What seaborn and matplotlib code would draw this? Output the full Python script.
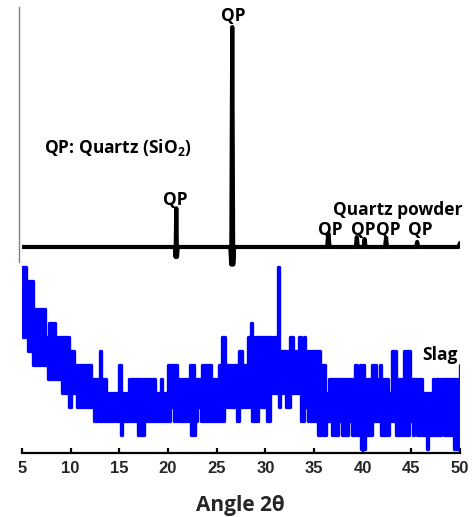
import matplotlib
matplotlib.use("Agg")
import matplotlib.pyplot as plt
import seaborn as sns

# ---------------- data ----------------
# Quartz powder XRD trace (relative intensity, baseline 0, main peak 100)
quartz_angle = [5.0, 20.7, 20.78, 20.85, 20.92, 21.0, 26.4, 26.5, 26.6, 26.7, 26.8,
                36.35, 36.47, 36.6, 39.3, 39.4, 39.5, 40.1, 40.2, 40.3,
                42.3, 42.4, 42.5, 45.5, 45.6, 45.7, 49.85, 50.0]
quartz_int = [0, 0, -4.5, 17.6, -4.5, 0, 0, -8, 100, -8, 0,
              0, 6.3, 0, 0, 4.5, 0, 0, 3.6, 0,
              0, 4.0, 0, 0, 2.3, 0, 0, 1.8]

# Slag XRD trace: upper and lower count levels every 0.25 degree (5 .. 50)
slag_start, slag_step = 5.0, 0.25
slag_hi = [12, 12, 11, 11,   11, 9, 9, 9,   9, 9, 7, 8,   8, 8, 7, 7,   7, 7, 7, 7,
           6, 6, 5, 5,       5, 5, 5, 5,    5, 4, 4, 4,   6, 4, 4, 3,   3, 3, 3, 3,
           5, 3, 3, 3,       4, 4, 4, 4,    4, 4, 4, 4,   4, 4, 4, 3,   3, 4, 3, 3,
           5, 5, 5, 5,       4, 4, 4, 4,    4, 5, 5, 4,   4, 4, 5, 5,   5, 5, 4, 4,
           4, 5, 7, 7,       5, 5, 5, 5,    5, 6, 6, 5,   5, 7, 8, 7,   7, 7, 7, 7,
           7, 7, 7, 7,       7, 12, 6, 6,   6, 6, 7, 7,   6, 6, 7, 6,   7, 6, 6, 6,
           6, 6, 6, 5,       5, 3, 4, 4,    4, 4, 4, 4,   4, 4, 4, 4,   4, 5, 4, 5,
           5, 4, 4, 4,       5, 5, 4, 5,    4, 4, 4, 3,   6, 6, 4, 4,   4, 6, 6, 6,
           4, 4, 4, 4,       4, 3, 3, 3,    3, 4, 4, 4,   4, 4, 4, 4,   4, 4, 4, 4,
           5]
slag_lo = [7, 7, 6, 6,       5, 5, 5, 5,    5, 5, 4, 4,   4, 4, 4, 4,   3, 3, 3, 2,
           3, 3, 2, 2,       2, 2, 2, 2,    2, 1, 1, 1,   1, 1, 1, 1,   1, 1, 1, 1,
           0, 1, 1, 1,       1, 1, 1, 0,    0, 0, 1, 1,   1, 1, 1, 1,   1, 1, 1, 1,
           1, 2, 1, 1,       1, 1, 1, 1,    1, 0, 0, 1,   2, 1, 1, 1,   1, 1, 1, 1,
           1, 1, 1, 2,       2, 2, 2, 2,    1, 2, 2, 2,   2, 2, 1, 1,   1, 2, 2, 2,
           1, 1, 3, 3,       3, 2, 3, 3,    2, 2, 3, 3,   3, 3, 1, 1,   2, 1, 1, 1,
           1, 0, 0, 0,       0, 1, 1, 0,    0, 0, 1, 0,   0, 0, 1, 0,   0, 0, 0, -1,
           -1, 0, 0, 0,      1, 1, 1, 0,    0, 0, 0, 1,   1, 0, 0, 0,   0, 0, 0, 1,
           0, 1, 0, 0,       0, 0, -1, 0,   0, 0, 0, 0,   1, 0, 0, 0,   0, -1, -1, 0,
           -1]

x_ticks = [5, 10, 15, 20, 25, 30, 35, 40, 45, 50]

# ---------------- style ----------------
sns.set_style("white")
plt.rcParams["font.family"] = ["Open Sans", "DejaVu Sans"]
plt.rcParams["mathtext.fontset"] = "custom"
plt.rcParams["mathtext.rm"] = "Open Sans"
plt.rcParams["mathtext.bf"] = "Open Sans:bold"
plt.rcParams["mathtext.default"] = "bf"

W, H = 473, 517
fig = plt.figure(figsize=(W / 100, H / 100), dpi=100)
ax_left, ax_right, ax_top, ax_bot = 22, 460, 7, 453
ax = fig.add_axes([ax_left / W, 1 - ax_bot / H, (ax_right - ax_left) / W, (ax_bot - ax_top) / H])

# vertical scale: one count level = 14 px, level 0 at pixel 435
px_per_unit = 14.0
y_bottom = -(ax_bot - 435) / px_per_unit
y_top = y_bottom + (ax_bot - ax_top) / px_per_unit
ax.set_xlim(5, 50)
ax.set_ylim(y_bottom, y_top)

# slag trace (step zig-zag between the upper and lower levels)
slag_x, slag_y = [], []
for i, (h, l) in enumerate(zip(slag_hi, slag_lo)):
    a = slag_start + i * slag_step
    slag_x += [a, a + slag_step / 2]
    slag_y += [h, l]
sns.lineplot(x=slag_x, y=slag_y, sort=False, estimator=None, color="#0000FF",
             lw=2.4, drawstyle="steps-post", ax=ax)

# quartz trace, offset above the slag trace
q_offset = 13.43
q_scale = 220 / px_per_unit / 100
quartz_y = [q_offset + v * q_scale for v in quartz_int]
sns.lineplot(x=quartz_angle, y=quartz_y, sort=False, estimator=None, color="black",
             lw=3.0, solid_capstyle="round", solid_joinstyle="round", ax=ax)

# ---------------- axes ----------------
for s in ["top", "right"]:
    ax.spines[s].set_visible(False)
ax.spines["bottom"].set_color("black")
ax.spines["bottom"].set_linewidth(1.6)
ax.spines["left"].set_color("#808080")
ax.spines["left"].set_linewidth(1.0)
ax.spines["left"].set_position(("outward", 2.2))
ax.spines["left"].set_bounds((435 - 262) / px_per_unit, y_top)
ax.set_yticks([])
ax.set_xticks(x_ticks)
ax.set_xticklabels([str(t) for t in x_ticks], fontfamily="Liberation Sans",
                   fontweight="bold", fontsize=12)
ax.tick_params(axis="x", direction="in", length=3.8, width=1.6, color="black",
               pad=6, bottom=True)
ax.set_xlabel("Angle 2θ", fontsize=15, fontweight="bold", va="center")
ax.xaxis.set_label_coords((240 - ax_left) / (ax_right - ax_left),
                          -(505 - ax_bot) / (ax_bot - ax_top))
ax.set_ylabel("")


def px2data(px, py):
    return 5 + (px - ax_left) * 45 / (ax_right - ax_left), (435 - py) / px_per_unit


txt = dict(fontsize=12.5, fontweight="bold", color="black", clip_on=False)
for (px, py) in [(233, 16), (175, 200), (330, 230), (363, 230), (388, 230), (420, 230)]:
    x, y = px2data(px, py)
    ax.text(x, y, "QP", ha="center", va="center", **txt)
x, y = px2data(44, 148)
ax.text(x, y, "QP: Quartz (SiO$_2$)", ha="left", va="center", **txt)
x, y = px2data(333, 210)
ax.text(x, y, "Quartz powder", ha="left", va="center", **txt)
x, y = px2data(440, 355)
ax.text(x, y, "Slag", ha="center", va="center", **txt)

fig.savefig("out.png", dpi=100)
